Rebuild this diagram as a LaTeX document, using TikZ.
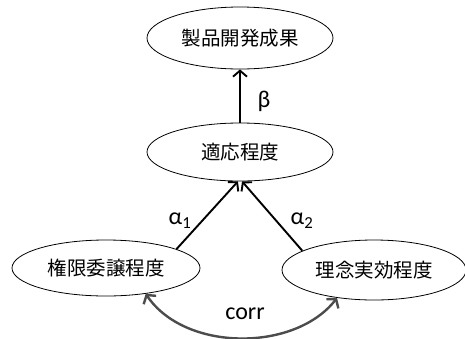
\documentclass[tikz,border=0pt]{standalone}
\usepackage{fontspec}
\setmainfont{Carlito}
\newfontfamily\jpfont{Noto Sans CJK JP}
\usetikzlibrary{arrows.meta,shapes.geometric}
\begin{document}
\begin{tikzpicture}[x=1pt,y=-1pt,
  ell/.style={draw,ellipse,line width=0.8pt,inner sep=0pt,font=\jpfont\fontsize{19.5}{19.5}\selectfont},
  arr/.style={line width=1.9pt,-{Straight Barb[length=6pt,width=14pt]}},
  carr/.style={line width=2.4pt,draw=black!70,{Straight Barb[length=6pt,width=15pt]}-{Straight Barb[length=6pt,width=15pt]}},
  lab/.style={font=\fontsize{24}{24}\selectfont}]
\useasboundingbox (0,0) rectangle (465,338);
\node[ell,minimum width=186pt,minimum height=62pt] (top) at (240,38) {製品開発成果};
\node[ell,minimum width=186pt,minimum height=58pt] (mid) at (240,152) {適応程度};
\node[ell,minimum width=188pt,minimum height=56pt] (left) at (106,268) {権限委譲程度};
\node[ell,minimum width=184pt,minimum height=60pt] (right) at (374,270) {理念実効程度};
\draw[arr] (mid.north) -- (top.south);
\draw[arr] (left.15) -- (mid.266);
\draw[arr] (right.165) -- (mid.274);
\draw[carr] (left.-33) .. controls (185,352) and (295,352) .. (right.-143);
\node[lab] (beta) at (264,101) {β};
\node[lab] (a1) at (180,221) {α\textsubscript{1}};
\node[lab] (a2) at (302,221) {α\textsubscript{2}};
\node[lab] (corr) at (245,314) {corr};
\end{tikzpicture}
\end{document}
